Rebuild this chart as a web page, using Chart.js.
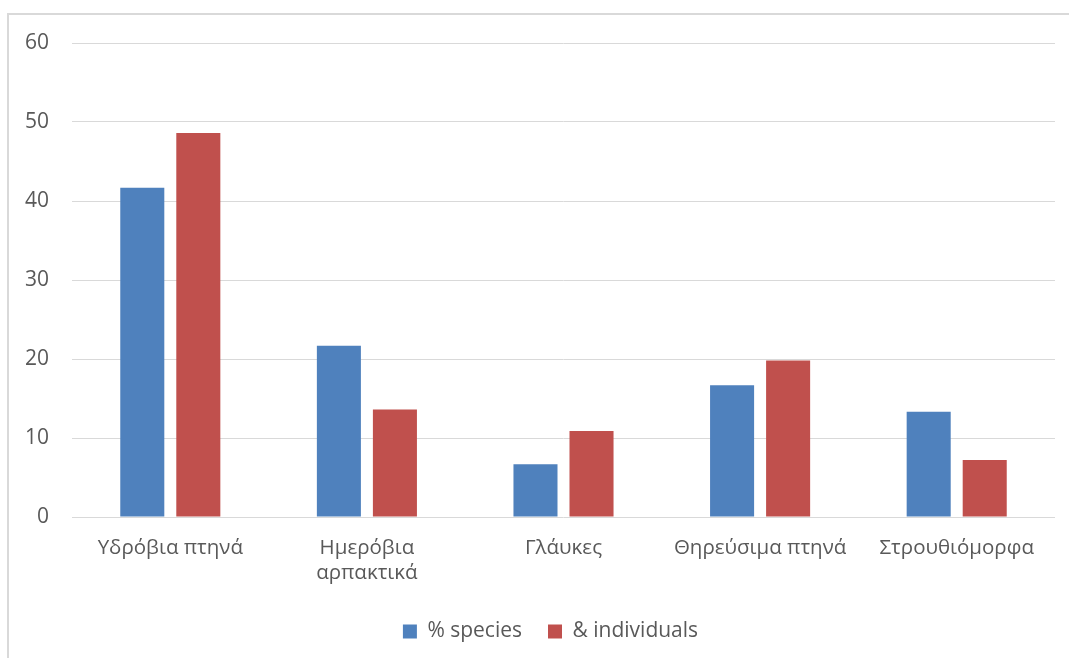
<!DOCTYPE html>
<html>
<head>
<meta charset="utf-8">
<script src="https://cdn.jsdelivr.net/npm/chart.js@4/dist/chart.umd.min.js"></script>
<style>
  html, body { margin: 0; padding: 0; background: #ffffff; }
  #wrap { width: 1069px; height: 658px; position: relative; }
</style>
</head>
<body>
<div id="wrap"><canvas id="chart"></canvas></div>
<script>
// Bird groups (categories) and the two percentage series
const categories = ['Υδρόβια πτηνά', ['Ημερόβια', 'αρπακτικά'], 'Γλάυκες', 'Θηρεύσιμα πτηνά', 'Στρουθιόμορφα'];
const speciesPct = [41.67, 21.67, 6.67, 16.67, 13.33];
const individualsPct = [48.6, 13.6, 10.9, 19.8, 7.2];
const seriesNames = ['% species', '& individuals'];
const yTicks = { min: 0, max: 60, step: 10 };

const FONT = "'Open Sans', 'Noto Sans', sans-serif";
const TEXT = '#595959';
const GRID = '#d9d9d9';
const LEGEND_OFFSET = 16; // legend sits slightly right of the canvas middle

// Thin outer frame around the chart object
const framePlugin = {
  id: 'frame',
  beforeDraw(chart) {
    const ctx = chart.ctx;
    ctx.save();
    ctx.strokeStyle = GRID;
    ctx.lineWidth = 2;
    ctx.beginPath();
    ctx.moveTo(8, chart.height + 5);
    ctx.lineTo(8, 14);
    ctx.lineTo(chart.width + 5, 14);
    ctx.stroke();
    ctx.restore();
  }
};

// Position the legend row horizontally
const legendShift = {
  id: 'legendShift',
  afterLayout(chart) {
    const lg = chart.legend;
    if (!lg) return;
    const dx = chart.width / 2 + LEGEND_OFFSET - (lg.left + lg.right) / 2;
    lg.left += dx;
    lg.right += dx;
  }
};

new Chart(document.getElementById('chart'), {
  type: 'bar',
  data: {
    labels: categories,
    datasets: [
      { label: seriesNames[0], data: speciesPct, backgroundColor: '#4f81bd' },
      { label: seriesNames[1], data: individualsPct, backgroundColor: '#c0504d' }
    ]
  },
  options: {
    responsive: true,
    maintainAspectRatio: false,
    animation: false,
    categoryPercentage: 0.57,
    barPercentage: 0.786,
    layout: { padding: { left: 10, top: 43, right: 14, bottom: 6 } },
    plugins: {
      tooltip: { enabled: false },
      legend: {
        position: 'bottom',
        labels: {
          font: { family: FONT, size: 21 },
          color: TEXT,
          boxWidth: 14,
          boxHeight: 14,
          padding: 26
        }
      }
    },
    scales: {
      x: {
        grid: { display: false, drawTicks: false },
        border: { display: false },
        ticks: {
          font: { family: FONT, size: 20.5 },
          color: TEXT,
          padding: 19,
          maxRotation: 0,
          autoSkip: false
        },
        afterFit(scale) { scale.height = 78; }
      },
      y: {
        min: yTicks.min,
        max: yTicks.max,
        grid: { color: GRID, lineWidth: 1, drawTicks: false },
        border: { display: false },
        ticks: {
          stepSize: yTicks.step,
          font: { family: FONT, size: 21 },
          color: TEXT,
          padding: 23
        },
        afterFit(scale) { scale.width = 62; }
      }
    }
  },
  plugins: [framePlugin, legendShift]
});
</script>
</body>
</html>
